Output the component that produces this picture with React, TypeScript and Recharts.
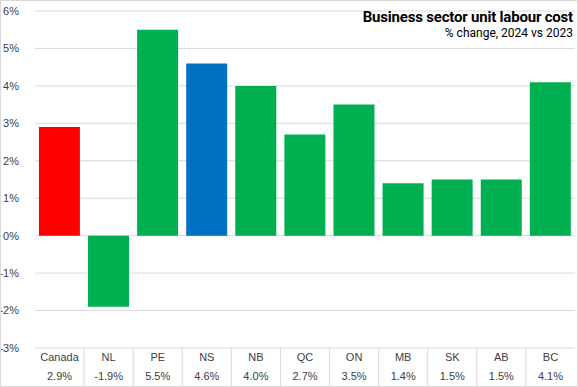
import React from 'react';
import { BarChart, Bar, XAxis, YAxis, CartesianGrid, Cell } from 'recharts';

const categories = ['Canada', 'NL', 'PE', 'NS', 'NB', 'QC', 'ON', 'MB', 'SK', 'AB', 'BC'];
const values = [2.9, -1.9, 5.5, 4.6, 4.0, 2.7, 3.5, 1.4, 1.5, 1.5, 4.1];
const colors = ['#FF0000', '#00B050', '#00B050', '#0070C0', '#00B050', '#00B050', '#00B050', '#00B050', '#00B050', '#00B050', '#00B050'];
const yTicks = [-3, -2, -1, 0, 1, 2, 3, 4, 5, 6];

const data = categories.map((c, i) => ({ name: c, value: values[i] }));

const W = 578;
const H = 387;
const LEFT = 35;
const RIGHT = 3;
const STEP = (W - LEFT - RIGHT) / categories.length;

const FONT = '"Liberation Sans", Arial, sans-serif';

const CatTick = (props: any) => {
  const { x, y, payload } = props;
  const i = categories.indexOf(payload.value);
  const v = values[i];
  return (
    <g>
      {i > 0 && (
        <line x1={x - STEP / 2} x2={x - STEP / 2} y1={y - 6} y2={y + 40} stroke="#D9D9D9" strokeWidth={1} />
      )}
      <text x={x} y={y + 7} textAnchor="middle" fontSize={11} fill="#404040" fontFamily={FONT}>
        {payload.value}
      </text>
      <text x={x} y={y + 26} textAnchor="middle" fontSize={11} fill="#404040" fontFamily={FONT}>
        {v.toFixed(1) + '%'}
      </text>
    </g>
  );
};

export default function App() {
  return (
    <div style={{ position: 'absolute', left: 0, top: 0, width: W, height: H, background: '#fff' }}>
      <BarChart
        width={W}
        height={H}
        data={data}
        margin={{ top: 11, right: RIGHT, left: 0, bottom: 0 }}
        barCategoryGap="8%"
      >
        <CartesianGrid vertical={false} stroke="#D9D9D9" />
        <XAxis
          dataKey="name"
          axisLine={false}
          tickLine={false}
          height={39}
          interval={0}
          tick={<CatTick />}
          tickMargin={0}
        />
        <YAxis
          width={LEFT}
          domain={[-3, 6]}
          ticks={yTicks}
          axisLine={false}
          tickLine={false}
          tickFormatter={(v: number) => `${v}%`}
          tick={{ fontSize: 11, fill: '#404040', fontFamily: FONT }}
          tickMargin={10}
        />
        <Bar dataKey="value" isAnimationActive={false}>
          {data.map((d, i) => (
            <Cell key={d.name} fill={colors[i]} />
          ))}
        </Bar>
      </BarChart>
      <div
        style={{
          position: 'absolute',
          right: 5,
          top: 8,
          textAlign: 'right',
          fontFamily: 'Roboto, sans-serif',
          color: '#000',
          lineHeight: 1.2,
        }}
      >
        <div style={{ fontSize: 15, fontWeight: 700, letterSpacing: -0.2 }}>Business sector unit labour cost</div>
        <div style={{ fontSize: 12, marginTop: 0 }}>% change, 2024 vs 2023</div>
      </div>
      <div
        style={{
          position: 'absolute',
          left: 0,
          top: 0,
          width: W,
          height: H,
          boxSizing: 'border-box',
          border: '1px solid #D9D9D9',
          pointerEvents: 'none',
        }}
      />
    </div>
  );
}
